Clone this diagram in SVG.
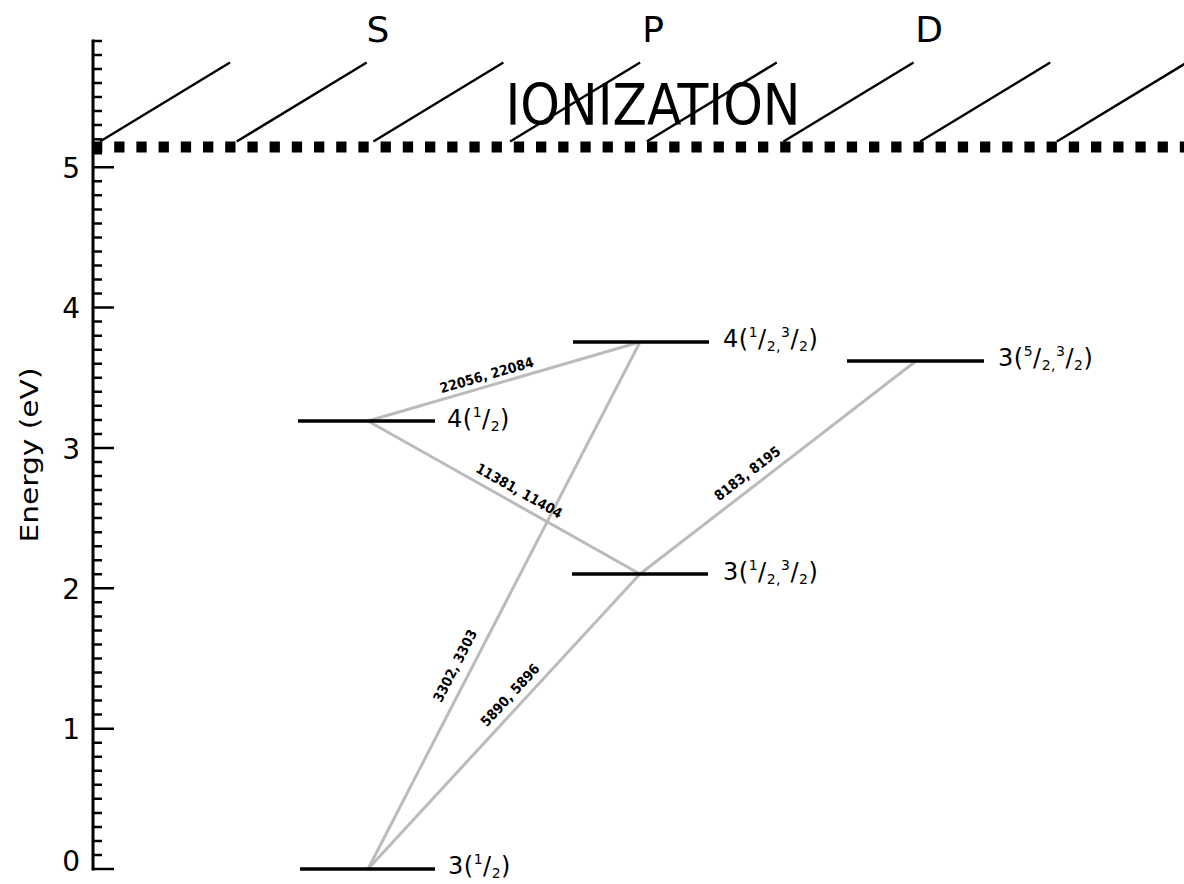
<svg xmlns="http://www.w3.org/2000/svg" width="1184" height="884" viewBox="0 0 1184 884">
<style>
text{font-family:"DejaVu Sans","Liberation Sans",sans-serif;fill:#000}
.ax{stroke:#000;fill:none}
.num{font-size:28px;text-anchor:end}
.orb{font-size:36px;text-anchor:middle}
.lvl{stroke:#000;stroke-width:3.5}
.lab{font-size:24px;letter-spacing:0.5px}
.sm{font-size:14px}
.tr{stroke:#bbbbbb;stroke-width:3;fill:none}
.tl{font-family:"DejaVu Sans Condensed","DejaVu Sans",sans-serif;font-stretch:condensed;font-size:14px;font-weight:bold;text-anchor:middle}
.hatch{stroke:#000;stroke-width:2.4}
</style>
<rect width="1184" height="884" fill="#fff"/>

<g id="axis">
<line class="ax" x1="93" y1="39.5" x2="93" y2="870.5" stroke-width="3"/>
<path class="ax" stroke-width="2.5" d="M93 855h9M93 840.9h9M93 826.9h9M93 812.9h9M93 798.8h9M93 784.8h9M93 770.8h9M93 756.7h9M93 742.7h9M93 714.6h9M93 700.6h9M93 686.5h9M93 672.5h9M93 658.5h9M93 644.4h9M93 630.4h9M93 616.4h9M93 602.3h9M93 574.3h9M93 560.2h9M93 546.2h9M93 532.2h9M93 518.1h9M93 504.1h9M93 490.1h9M93 476h9M93 462h9M93 433.9h9M93 419.9h9M93 405.8h9M93 391.8h9M93 377.8h9M93 363.7h9M93 349.7h9M93 335.7h9M93 321.6h9M93 293.6h9M93 279.5h9M93 265.5h9M93 251.5h9M93 237.4h9M93 223.4h9M93 209.4h9M93 195.3h9M93 181.3h9M93 153.2h9M93 139.2h9M93 125.1h9M93 111.1h9M93 97.1h9M93 83h9M93 69h9M93 55h9M93 40.9h9"/>
<path class="ax" stroke-width="2.5" d="M93 869h21M93 728.7h21M93 588.3h21M93 448h21M93 307.6h21M93 167.3h21"/>
<text class="num" x="80" y="871">0</text>
<text class="num" x="80" y="739.2">1</text>
<text class="num" x="80" y="598.8">2</text>
<text class="num" x="80" y="458.5">3</text>
<text class="num" x="80" y="318.1">4</text>
<text class="num" x="80" y="177.8">5</text>
<text font-size="25" text-anchor="middle" transform="translate(38,455) rotate(-90)" textLength="175" lengthAdjust="spacingAndGlyphs">Energy  (eV)</text>
</g>

<g id="orbitals">
<text class="orb" x="378" y="42">S</text>
<text class="orb" x="653" y="42">P</text>
<text class="orb" x="929" y="42">D</text>
</g>

<g id="ionization">
<line x1="92" y1="147" x2="1184" y2="147" stroke="#000" stroke-width="11" stroke-dasharray="10.3 11.9"/>
<path class="hatch" d="M100 141.5L230 62.5M236.7 141.5L366.7 62.5M373.4 141.5L503.4 62.5M510.1 141.5L640.1 62.5M646.8 141.5L776.8 62.5M783.5 141.5L913.5 62.5M920.2 141.5L1050.2 62.5M1056.9 141.5L1186.9 62.5"/>
<text x="653" y="125" font-size="57" text-anchor="middle" textLength="295" lengthAdjust="spacingAndGlyphs">IONIZATION</text>
</g>

<g id="connectors">
<line class="tr" x1="368" y1="869" x2="640" y2="342"/>
<line class="tr" x1="368" y1="869" x2="640" y2="574"/>
<line class="tr" x1="640" y1="574" x2="916" y2="361"/>
<line class="tr" x1="368" y1="421" x2="640" y2="574"/>
<line class="tr" x1="368" y1="421" x2="640" y2="342"/>
<text class="tl" transform="translate(486.7,375) rotate(-16.2)" y="5">22056, 22084</text>
<text class="tl" transform="translate(519.3,490.7) rotate(29.4)" y="5">11381, 11404</text>
<text class="tl" transform="translate(747.3,473.3) rotate(-37.7)" y="5">8183, 8195</text>
<text class="tl" transform="translate(455,665.7) rotate(-62.7)" y="5">3302, 3303</text>
<text class="tl" transform="translate(510,695) rotate(-47.3)" y="5">5890, 5896</text>
</g>

<g id="level-3s">
<line class="lvl" x1="300" y1="869" x2="435" y2="869"/>
<text class="lab" x="448" y="874">3(<tspan class="sm" dy="-10">1</tspan><tspan dy="10">/</tspan><tspan class="sm" dy="4">2</tspan><tspan dy="-4">)</tspan></text>
</g>
<g id="level-4s">
<line class="lvl" x1="298" y1="421" x2="435" y2="421"/>
<text class="lab" x="447" y="427">4(<tspan class="sm" dy="-10">1</tspan><tspan dy="10">/</tspan><tspan class="sm" dy="4">2</tspan><tspan dy="-4">)</tspan></text>
</g>
<g id="level-3p">
<line class="lvl" x1="572" y1="574" x2="708" y2="574"/>
<text class="lab" x="723" y="580">3(<tspan class="sm" dy="-10">1</tspan><tspan dy="10">/</tspan><tspan class="sm" dy="4">2,</tspan><tspan class="sm" dy="-14">3</tspan><tspan dy="10">/</tspan><tspan class="sm" dy="4">2</tspan><tspan dy="-4">)</tspan></text>
</g>
<g id="level-4p">
<line class="lvl" x1="573" y1="342" x2="709" y2="342"/>
<text class="lab" x="723" y="347">4(<tspan class="sm" dy="-10">1</tspan><tspan dy="10">/</tspan><tspan class="sm" dy="4">2,</tspan><tspan class="sm" dy="-14">3</tspan><tspan dy="10">/</tspan><tspan class="sm" dy="4">2</tspan><tspan dy="-4">)</tspan></text>
</g>
<g id="level-3d">
<line class="lvl" x1="847" y1="361" x2="984" y2="361"/>
<text class="lab" x="998" y="366">3(<tspan class="sm" dy="-10">5</tspan><tspan dy="10">/</tspan><tspan class="sm" dy="4">2,</tspan><tspan class="sm" dy="-14">3</tspan><tspan dy="10">/</tspan><tspan class="sm" dy="4">2</tspan><tspan dy="-4">)</tspan></text>
</g>
</svg>
